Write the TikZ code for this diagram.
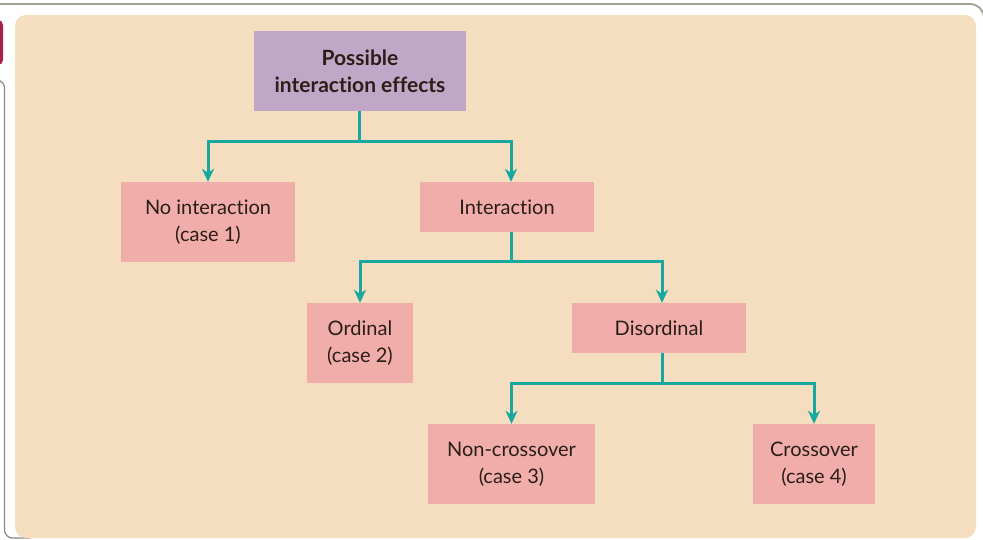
\documentclass[tikz,border=0pt]{standalone}
\usepackage{fontspec}
\setmainfont{Lato}[Ligatures=NoCommon]
\usetikzlibrary{arrows.meta}
\definecolor{beige}{HTML}{F5DEBF}
\definecolor{pinkbox}{HTML}{F0ADAA}
\definecolor{purplebox}{HTML}{C0A7C7}
\definecolor{tealline}{HTML}{17A89F}
\definecolor{txt}{HTML}{2B1E17}
\definecolor{framegray}{HTML}{A3A097}
\definecolor{maroon}{HTML}{A82049}
\tikzset{
  x=1pt, y=-1pt,
  box/.style={fill=pinkbox, text=txt, align=center, inner sep=0pt, font=\fontsize{20}{27}\selectfont},
  topbox/.style={fill=purplebox, text=txt, align=center, inner sep=0pt, font=\fontsize{21}{27}\selectfont\bfseries},
  conn/.style={draw=tealline, line width=3pt},
  arr/.style={conn, -{Stealth[length=13pt, width=12pt, inset=4pt]}}
}
\begin{document}
\begin{tikzpicture}
\useasboundingbox (0,0) rectangle (983,539);
\begin{scope}
\clip (0,0) rectangle (983,539);
% outer frame
\draw[framegray, line width=1.8pt, rounded corners=14pt] (-20,4) -- (984,4) -- (984,560);
\draw[framegray!85!black, line width=1.2pt, rounded corners=8pt] (-20,80) -- (4.5,80) -- (4.5,538) -- (30,538);
% maroon tab
\fill[maroon, rounded corners=5pt] (-12,20) rectangle (3,65);
\end{scope}
% panel
\fill[beige, rounded corners=11pt] (15,15) rectangle (976,538);

% nodes
\node[topbox, minimum width=212pt, minimum height=80pt] (top) at (360,71) {Possible\\interaction effects};
\node[box, minimum width=174pt, minimum height=80pt] (noint) at (208,222) {No interaction\\(case 1)};
\node[box, minimum width=174pt, minimum height=50pt] (inter) at (507,207) {Interaction};
\node[box, minimum width=106pt, minimum height=80pt] (ord) at (360,343) {Ordinal\\(case 2)};
\node[box, minimum width=174pt, minimum height=50pt] (disord) at (659,328) {Disordinal};
\node[box, minimum width=167pt, minimum height=80pt] (noncross) at (511.5,464) {Non-crossover\\(case 3)};
\node[box, minimum width=122pt, minimum height=80pt] (cross) at (814,464) {Crossover\\(case 4)};

% junctions
\coordinate (j1) at (359,141);
\coordinate (j2) at (511,261);
\coordinate (j3) at (662,383);

% connectors
\draw[conn] (top.south -| j1) -- (j1);
\draw[arr] (j1) -| (noint.north);
\draw[arr] (j1) -| (inter.north -| j2);
\draw[conn] (inter.south -| j2) -- (j2);
\draw[arr] (j2) -| (ord.north);
\draw[arr] (j2) -| (disord.north -| j3);
\draw[conn] (disord.south -| j3) -- (j3);
\draw[arr] (j3) -| (noncross.north);
\draw[arr] (j3) -| (cross.north);
\end{tikzpicture}
\end{document}
